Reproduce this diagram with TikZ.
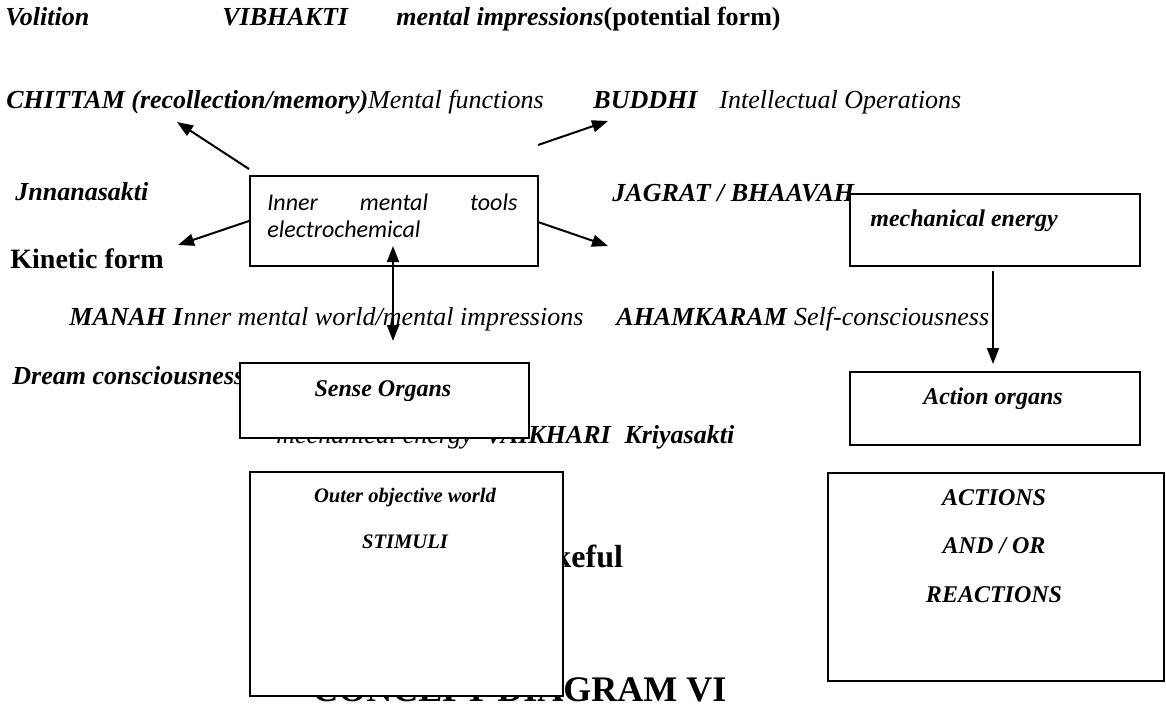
\documentclass[tikz,border=0pt]{standalone}
\usepackage{fontspec}
\setmainfont{Liberation Serif}
\newfontfamily\calib{Carlito}
\usetikzlibrary{arrows.meta}
\begin{document}
\begin{tikzpicture}[x=0.5pt,y=-0.5pt,
  lbl/.style={anchor=base west, inner sep=0pt, font=\fontsize{13}{15}\selectfont},
  bx/.style={draw, line width=1pt, fill=white, inner sep=0pt, anchor=north west},
  intext/.style={anchor=base, inner sep=0pt, font=\fontsize{12}{14}\selectfont\bfseries\itshape},
  smtext/.style={anchor=base, inner sep=0pt, font=\fontsize{10.3}{12}\selectfont\bfseries\itshape},
  arr/.style={line width=1pt, -{Triangle[length=8pt,width=6pt]}},
  darr/.style={line width=1pt, {Triangle[length=8pt,width=6pt]}-{Triangle[length=8pt,width=6pt]}}]
\useasboundingbox[fill=white] (0,0) rectangle (1166,706);
% free-standing labels (drawn first, partly hidden by boxes)
\node[lbl] (volition) at (5,26) {\bfseries\itshape Volition};
\node[lbl] (vibhakti) at (222,26) {\bfseries\itshape VIBHAKTI};
\node[lbl] (mentimp) at (396,26) {\textbf{\textit{mental impressions}}\textbf{(potential form)}};
\node[lbl] (chittam) at (6,109) {\textbf{\textit{CHITTAM (recollection/memory)}}\textit{Mental functions}};
\node[lbl] (buddhi) at (593,109) {\bfseries\itshape BUDDHI};
\node[lbl] (intell) at (719,109) {\itshape Intellectual Operations};
\node[lbl] (jnana) at (15,200) {\bfseries\itshape Jnnanasakti};
\node[lbl] (jagrat) at (612,201) {\bfseries\itshape JAGRAT / BHAAVAH};
\node[anchor=base west, inner sep=0pt, font=\fontsize{14}{17}\selectfont\bfseries] (kinetic) at (10,268) {Kinetic form};
\node[lbl] (manah) at (69,325) {\textbf{\textit{MANAH I}}\textit{nner mental world/mental impressions}};
\node[lbl] (ahamkaram) at (616,325) {\textbf{\textit{AHAMKARAM}} \textit{Self-consciousness}};
\node[lbl] (dream) at (12,384) {\bfseries\itshape Dream consciousness};
\node[lbl] (vaikhari) at (276,443) {\textit{mechanical energy}\hspace{6.5pt}\textbf{\textit{VAIKHARI}}\hspace{6.5pt}\textbf{\textit{Kriyasakti}}};
\node[anchor=base west, inner sep=0pt, font=\fontsize{16}{19}\selectfont\bfseries] (wakeful) at (507,567) {Wakeful};
\node[anchor=base west, inner sep=0pt, font=\fontsize{18}{21}\selectfont\bfseries] (title) at (312,701) {CONCEPT DIAGRAM VI};
% boxes
\node[bx, minimum width=144pt, minimum height=45pt] (inner) at (249,175) {};
\node[anchor=base west, inner sep=0pt, text width=125pt, align=left, font=\calib\fontsize{12}{13.5}\selectfont\itshape] (innertext) at (267,210) {Inner\hfill mental\hfill tools\\electrochemical};
\node[bx, minimum width=145pt, minimum height=36pt] (mech) at (849,193) {};
\node[anchor=base west, inner sep=0pt, font=\fontsize{12}{14}\selectfont\bfseries\itshape] (mechtext) at (870,226) {mechanical energy};
\node[bx, minimum width=144.5pt, minimum height=37.5pt] (sense) at (239,362) {};
\node[intext] (sensetext) at (383,396) {Sense Organs};
\node[bx, minimum width=145pt, minimum height=36.5pt] (action) at (849,371) {};
\node[intext] (actiontext) at (993,404) {Action organs};
\node[bx, minimum width=156.5pt, minimum height=112pt] (outer) at (249,471) {};
\node[smtext] (outertext) at (405,502) {Outer objective world};
\node[smtext] (stimuli) at (405,548) {STIMULI};
\node[bx, minimum width=168pt, minimum height=104pt] (acts) at (827,472) {};
\node[intext] (acts1) at (994,505) {ACTIONS};
\node[intext] (acts2) at (994,553) {AND / OR};
\node[intext] (acts3) at (994,602) {REACTIONS};
% arrow end points
\coordinate (ulS) at (249,169);
\coordinate (ulT) at (177,122);
\coordinate (urS) at (538,145);
\coordinate (urT) at (608,121);
\coordinate (llS) at (249,221);
\coordinate (llT) at (178,245);
\coordinate (lrS) at (538,222);
\coordinate (lrT) at (608,246);
\coordinate (vT) at (393,246);
\coordinate (vB) at (393,341);
\coordinate (mB) at (993,364);
% connectors
\draw[arr] (ulS) -- (ulT);
\draw[arr] (urS) -- (urT);
\draw[arr] (llS) -- (llT);
\draw[arr] (lrS) -- (lrT);
\draw[darr] (vT) -- (vB);
\draw[arr] ([yshift=-2pt]mech.south -| mB) -- (mB);
\end{tikzpicture}
\end{document}
